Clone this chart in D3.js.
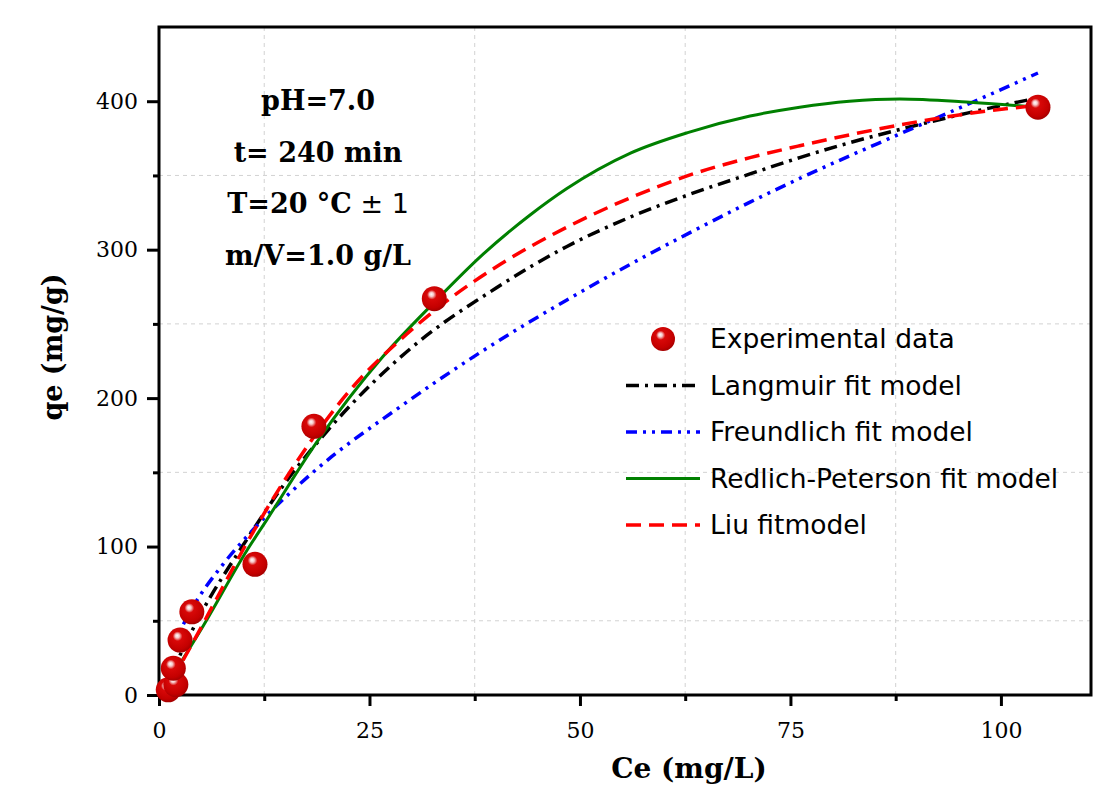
<!DOCTYPE html>
<html>
<head>
<meta charset="utf-8">
<script src="https://cdn.jsdelivr.net/npm/d3@7/dist/d3.min.js"></script>
<style>
  body { margin: 0; background: #fff; }
  svg { display: block; }
</style>
</head>
<body>
<script>
// experimental points (Ce mg/L, qe mg/g)
var expCe = [1.1, 2.0, 1.7, 2.5, 3.9, 11.4, 18.4, 32.7, 104.4];
var expQe = [3.5, 7, 18, 37, 56, 88, 181, 267, 396];

// fitted curves
var langCe = [1.5, 5, 10, 15, 20, 30, 40, 48.4, 56, 62.9, 70.2, 76.1, 82, 88, 96, 104.2];
var langQe = [15, 55, 101, 143, 178, 234, 274, 302, 322, 337, 351, 362, 372, 381, 392, 402];

var freuCe = [1.5, 4.1, 7.6, 10.8, 18.7, 28.6, 38.5, 48.4, 62.9, 70.2, 76.1, 88, 95.9, 104.4];
var freuQe = [32, 60, 88, 109, 152, 194, 232, 266, 311, 332, 348, 378, 397.5, 419];

var rpCe = [1.5, 5.3, 10.4, 12.8, 18.7, 26.6, 32.6, 38.5, 44, 48.4, 56, 62.9, 70.2, 76.1, 82, 88, 95.9, 104.2];
var rpQe = [12, 47, 97, 118, 170, 228, 264, 297, 323, 341, 365, 379, 390, 396, 400, 401.5, 399.5, 396];

var liuCe = [1.5, 3.7, 6.85, 10, 16.7, 23.1, 29.4, 33.4, 40.5, 48.4, 56, 62.9, 70.2, 76.1, 88, 95.9, 104];
var liuQe = [10, 32, 65, 98, 160, 208, 243, 262, 290, 315, 335, 350, 362, 370, 384, 391.5, 397];

var xMajor = [0, 25, 50, 75, 100];
var xMinor = [12.5, 37.5, 62.5, 87.5];
var yMajor = [0, 100, 200, 300, 400];
var yMinor = [50, 150, 250, 350];

var notes = ["pH=7.0", "t= 240 min", "T=20 °C", "m/V=1.0 g/L"];

var legendNames = ["Experimental data", "Langmuir fit model", "Freundlich fit model",
                   "Redlich-Peterson fit model", "Liu fitmodel"];

// page size
var W = 1097, H = 787;
var margin = {top: 27, right: 6, bottom: 92, left: 159},
    width = W - margin.left - margin.right,
    height = H - margin.top - margin.bottom;

var svg = d3.select("body").append("svg")
    .attr("width", W)
    .attr("height", H);

var defs = svg.append("defs");
var grad = defs.append("radialGradient")
    .attr("id", "ball")
    .attr("cx", "45%").attr("cy", "40%").attr("r", "60%")
    .attr("fx", "38%").attr("fy", "32%");
grad.append("stop").attr("offset", "0%").attr("stop-color", "#ffffff");
grad.append("stop").attr("offset", "14%").attr("stop-color", "#f6c8c8");
grad.append("stop").attr("offset", "32%").attr("stop-color", "#d80808");
grad.append("stop").attr("offset", "80%").attr("stop-color", "#c40000");
grad.append("stop").attr("offset", "100%").attr("stop-color", "#a50000");

var g = svg.append("g")
    .attr("transform", "translate(" + margin.left + "," + margin.top + ")");

var x = d3.scaleLinear().domain([0, 110.7]).range([0, width]);
var y = d3.scaleLinear().domain([0, 450]).range([height, 0]);

// grid at the minor positions
g.append("g").selectAll("line").data(xMinor).enter().append("line")
    .attr("x1", function(d) { return x(d); }).attr("x2", function(d) { return x(d); })
    .attr("y1", 0).attr("y2", height)
    .attr("stroke", "#d2d2d2").attr("stroke-width", 1).attr("stroke-dasharray", "4,4");
g.append("g").selectAll("line").data(yMinor).enter().append("line")
    .attr("y1", function(d) { return y(d); }).attr("y2", function(d) { return y(d); })
    .attr("x1", 0).attr("x2", width)
    .attr("stroke", "#d2d2d2").attr("stroke-width", 1).attr("stroke-dasharray", "4,4");

// axes
var serif = "'Palatino Linotype','Book Antiqua',Palatino,'DejaVu Serif',serif";

function styleAxis(sel) {
    sel.select(".domain").remove();
    sel.selectAll("line").attr("stroke", "#000").attr("stroke-width", 3);
    sel.selectAll("text").attr("font-family", serif).attr("font-size", 22).attr("fill", "#000");
}

g.append("g")
    .attr("transform", "translate(0," + height + ")")
    .call(d3.axisBottom(x).tickValues(xMajor).tickSize(11).tickPadding(16).tickFormat(d3.format("d")))
    .call(styleAxis);
g.append("g")
    .attr("transform", "translate(0," + height + ")")
    .call(d3.axisBottom(x).tickValues(xMinor).tickSize(6).tickFormat(""))
    .call(styleAxis);
g.append("g")
    .call(d3.axisLeft(y).tickValues(yMajor).tickSize(12).tickPadding(9).tickFormat(d3.format("d")))
    .call(styleAxis);
g.append("g")
    .call(d3.axisLeft(y).tickValues(yMinor).tickSize(6).tickFormat(""))
    .call(styleAxis);

// frame
g.append("rect")
    .attr("x", 0).attr("y", 0).attr("width", width).attr("height", height)
    .attr("fill", "none").attr("stroke", "#000").attr("stroke-width", 3);

// curves
var line = d3.line()
    .x(function(d) { return x(d[0]); })
    .y(function(d) { return y(d[1]); })
    .curve(d3.curveMonotoneX);

function pairs(a, b) { return a.map(function(v, i) { return [v, b[i]]; }); }

var models = [
    {data: pairs(langCe, langQe), color: "#000000", dash: "13,6,3,6", w: 3.5},
    {data: pairs(freuCe, freuQe), color: "#0000ff", dash: "11,6,3,6,3,6", w: 3.5},
    {data: pairs(rpCe, rpQe), color: "#008000", dash: null, w: 3},
    {data: pairs(liuCe, liuQe), color: "#ff0000", dash: "15,8", w: 3.5}
];

models.forEach(function(m) {
    g.append("path")
        .datum(m.data)
        .attr("d", line)
        .attr("fill", "none")
        .attr("stroke", m.color)
        .attr("stroke-width", m.w)
        .attr("stroke-dasharray", m.dash);
});

// experimental points
g.append("g").selectAll("circle")
    .data(pairs(expCe, expQe))
    .enter().append("circle")
    .attr("cx", function(d) { return x(d[0]); })
    .attr("cy", function(d) { return y(d[1]); })
    .attr("r", 12.5)
    .attr("fill", "url(#ball)");

// condition notes
var noteG = svg.append("g").attr("font-family", serif).attr("font-weight", "bold")
    .attr("font-size", 27).attr("text-anchor", "middle").attr("fill", "#000");
notes.forEach(function(t, i) {
    var txt = noteG.append("text")
        .attr("x", 318)
        .attr("y", 110 + i * 51.7)
        .text(t);
    if (i == 2) {
        txt.append("tspan")
            .attr("font-family", "Tahoma,'DejaVu Sans',sans-serif")
            .attr("font-weight", "normal")
            .attr("font-size", 27)
            .text(" \u00B1 1");
    }
});

// legend
var sans = "Tahoma,'DejaVu Sans',sans-serif";
var leg = svg.append("g").attr("transform", "translate(626,339)");
legendNames.forEach(function(name, i) {
    var row = leg.append("g").attr("transform", "translate(0," + i * 46.5 + ")");
    if (i == 0) {
        row.append("circle").attr("cx", 37).attr("cy", 0).attr("r", 12).attr("fill", "url(#ball)");
    } else {
        var m = models[i - 1];
        row.append("line")
            .attr("x1", 0).attr("x2", 74).attr("y1", 0).attr("y2", 0)
            .attr("stroke", m.color).attr("stroke-width", m.w)
            .attr("stroke-dasharray", m.dash);
    }
    row.append("text")
        .attr("x", 84).attr("y", 0).attr("dy", "0.35em")
        .attr("font-family", sans).attr("font-size", 26.5)
        .text(name);
});

// axis titles
svg.append("text")
    .attr("x", 689).attr("y", 778)
    .attr("text-anchor", "middle")
    .attr("font-family", serif).attr("font-weight", "bold").attr("font-size", 28)
    .text("Ce (mg/L)");
svg.append("text")
    .attr("transform", "translate(53,347) rotate(-90)")
    .attr("text-anchor", "middle").attr("dy", "0.35em")
    .attr("font-family", serif).attr("font-weight", "bold").attr("font-size", 27)
    .text("qe (mg/g)");
</script>
</body>
</html>
